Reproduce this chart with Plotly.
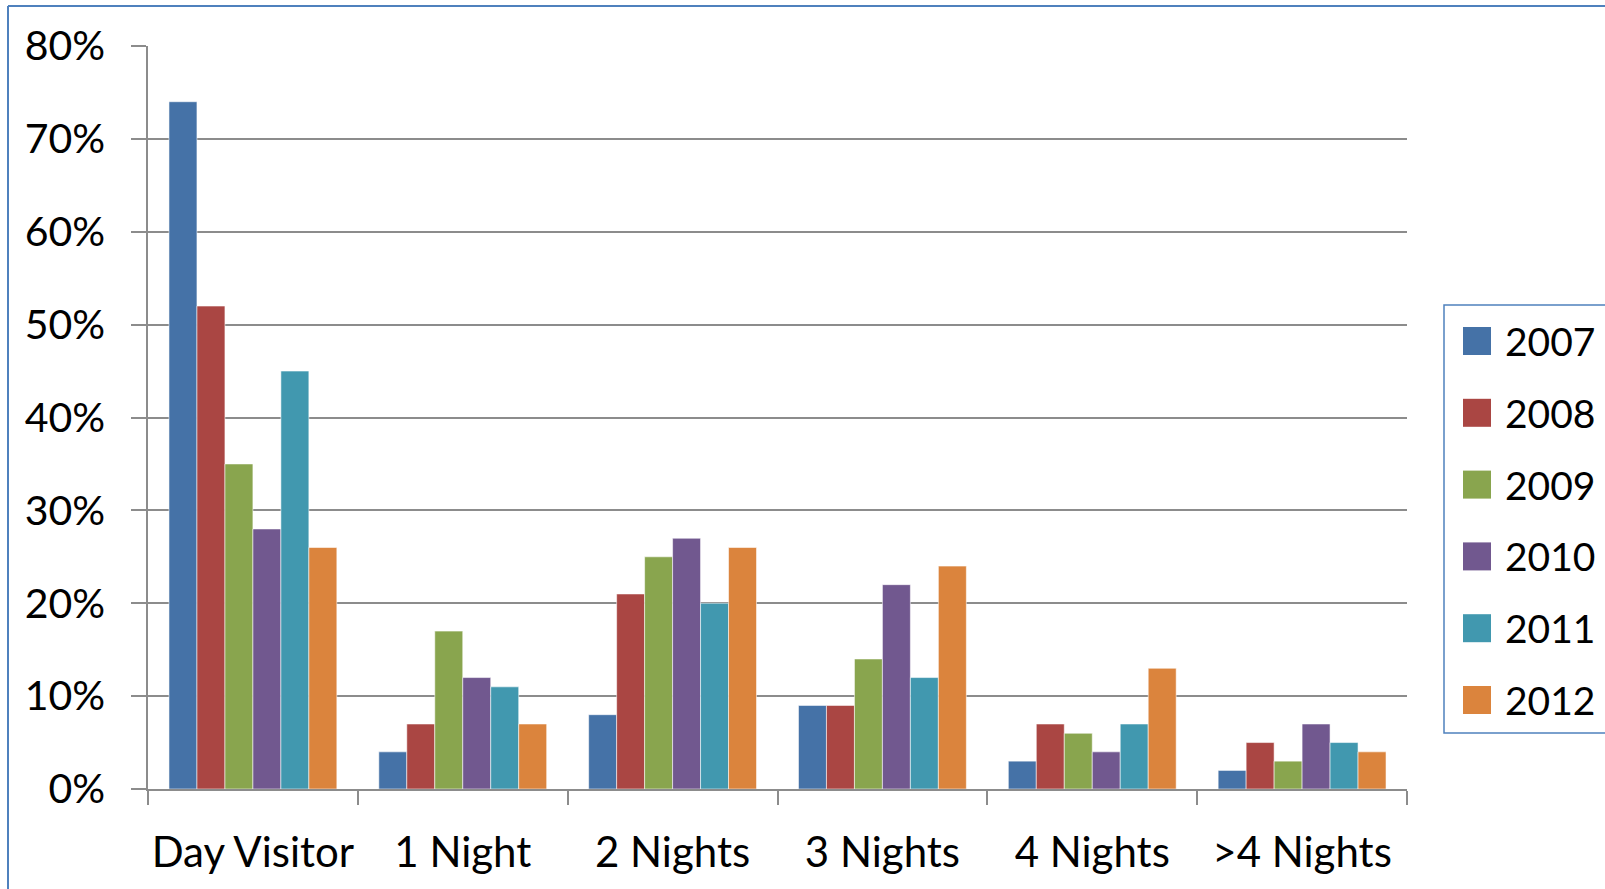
import plotly.graph_objects as go

# Length of stay by survey year (share of visitors)
categories = ["Day Visitor", "1 Night", "2 Nights", "3 Nights", "4 Nights", ">4 Nights"]
years = ["2007", "2008", "2009", "2010", "2011", "2012"]
share_2007 = [0.74, 0.04, 0.08, 0.09, 0.03, 0.02]
share_2008 = [0.52, 0.07, 0.21, 0.09, 0.07, 0.05]
share_2009 = [0.35, 0.17, 0.25, 0.14, 0.06, 0.03]
share_2010 = [0.28, 0.12, 0.27, 0.22, 0.04, 0.07]
share_2011 = [0.45, 0.11, 0.20, 0.12, 0.07, 0.05]
share_2012 = [0.26, 0.07, 0.26, 0.24, 0.13, 0.04]
series = [share_2007, share_2008, share_2009, share_2010, share_2011, share_2012]
colors = ["#4572A7", "#AA4643", "#89A54E", "#71588F", "#4198AF", "#DB843D"]
y_ticks = [0, 0.1, 0.2, 0.3, 0.4, 0.5, 0.6, 0.7, 0.8]

W, H = 1605, 889
L, R, T, B = 148, 1407, 46, 789  # plot area in pixels
FONT = "Lato, 'Open Sans', sans-serif"
GRID = "#8C8C8C"


def px_x(x):
    return (x - L) / (R - L)


def px_y(y):
    return (B - y) / (B - T)


fig = go.Figure()
for name, vals, col in zip(years, series, colors):
    fig.add_trace(go.Bar(
        x=categories, y=vals, name=name,
        marker=dict(color=col, line=dict(color="rgba(255,255,255,0.55)", width=1)),
        showlegend=False,
    ))

shapes = []
annotations = []

# chart frame (top and left edges visible)
shapes.append(dict(type="line", xref="paper", yref="paper",
                   x0=px_x(8), x1=px_x(W + 5), y0=px_y(6), y1=px_y(6),
                   line=dict(color="#4F81BD", width=2)))
shapes.append(dict(type="line", xref="paper", yref="paper",
                   x0=px_x(8), x1=px_x(8), y0=px_y(6), y1=px_y(H + 5),
                   line=dict(color="#4F81BD", width=2)))

# legend box
shapes.append(dict(type="rect", xref="paper", yref="paper",
                   x0=px_x(1444), x1=px_x(W + 10), y0=px_y(305), y1=px_y(733),
                   line=dict(color="#4F81BD", width=1.5), fillcolor="white"))
row0, step = 341, 71.8
for i, (name, col) in enumerate(zip(years, colors)):
    cy = row0 + i * step
    shapes.append(dict(type="rect", xref="paper", yref="paper",
                       x0=px_x(1463), x1=px_x(1491), y0=px_y(cy - 14), y1=px_y(cy + 14),
                       line=dict(width=0), fillcolor=col))
    annotations.append(dict(xref="paper", yref="paper", x=px_x(1503), y=px_y(cy),
                            text=name, showarrow=False, xanchor="left", yanchor="middle",
                            font=dict(family=FONT, size=39, color="black")))

fig.update_layout(
    width=W, height=H,
    margin=dict(l=L, r=W - R, t=T, b=H - B, autoexpand=False),
    paper_bgcolor="white", plot_bgcolor="white",
    barmode="group", bargap=0.2, bargroupgap=0,
    font=dict(family=FONT, size=39, color="black"),
    shapes=shapes, annotations=annotations,
    xaxis=dict(
        type="category", showgrid=False, tickangle=0,
        showline=True, linecolor=GRID, linewidth=1.5,
        ticks="outside", tickson="boundaries", ticklen=14, tickcolor=GRID, tickwidth=1.5,
        ticklabelstandoff=26,
        tickfont=dict(family=FONT, size=42, color="black"),
    ),
    yaxis=dict(
        range=[0, 0.8], tickvals=y_ticks, tickformat=".0%",
        showgrid=True, gridcolor=GRID, gridwidth=1.5,
        showline=True, linecolor=GRID, linewidth=1.5,
        ticks="outside", ticklen=15, tickcolor=GRID, tickwidth=1.5,
        ticklabelstandoff=18, zeroline=False,
        tickfont=dict(family=FONT, size=41, color="black"),
    ),
)

fig.write_html("out.html")
